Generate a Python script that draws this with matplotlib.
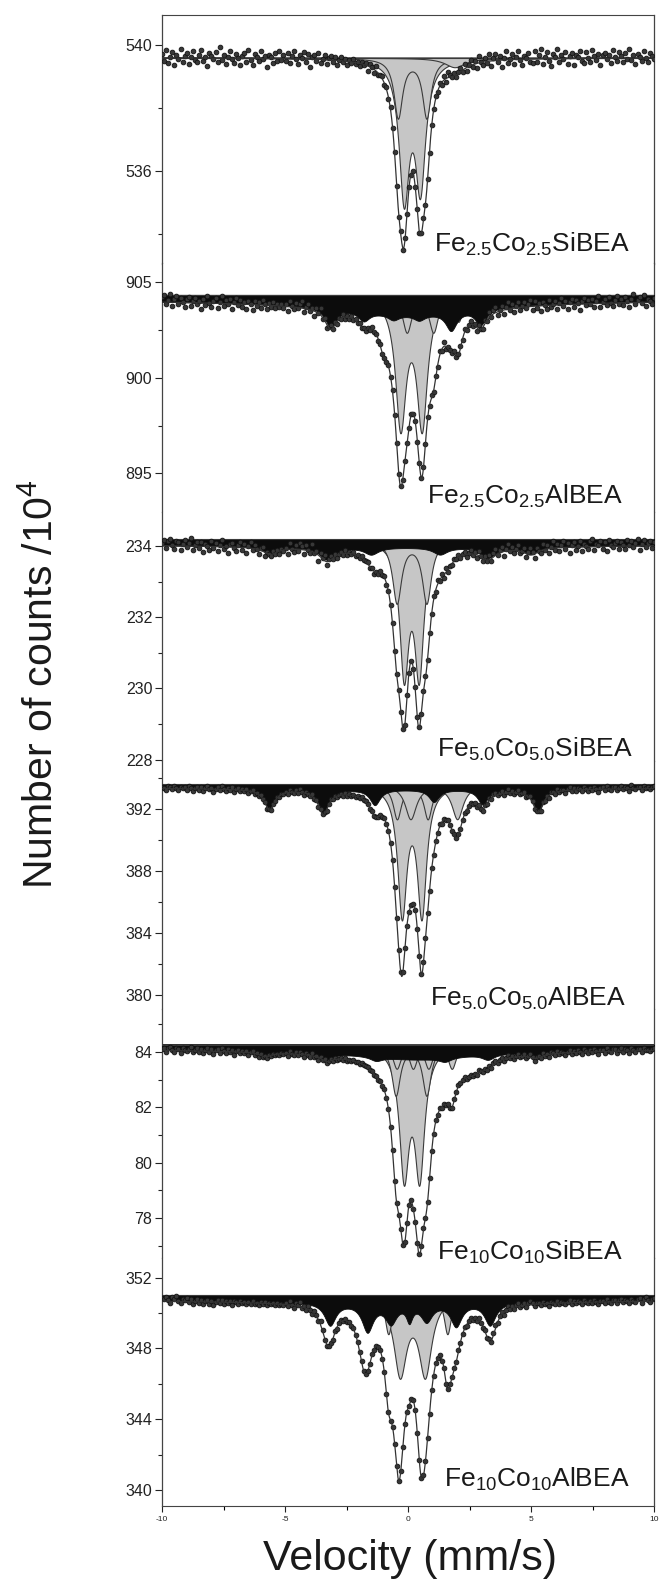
import numpy as np
import matplotlib
matplotlib.use('Agg')
import matplotlib.pyplot as plt
from matplotlib.ticker import MultipleLocator

plt.rcParams['font.family'] = ['Liberation Sans', 'DejaVu Sans']
plt.rcParams['mathtext.fontset'] = 'custom'
plt.rcParams['mathtext.rm'] = 'Liberation Sans'
plt.rcParams['mathtext.it'] = 'Liberation Sans:italic'
plt.rcParams['mathtext.bf'] = 'Liberation Sans:bold'
plt.rcParams['axes.unicode_minus'] = False

# sample names, top to bottom
names = [r'Fe$_{2.5}$Co$_{2.5}$SiBEA', r'Fe$_{2.5}$Co$_{2.5}$AlBEA',
         r'Fe$_{5.0}$Co$_{5.0}$SiBEA', r'Fe$_{5.0}$Co$_{5.0}$AlBEA',
         r'Fe$_{10}$Co$_{10}$SiBEA', r'Fe$_{10}$Co$_{10}$AlBEA']

# baselines (counts / 10^4)
bases = [539.6, 904.34, 234.19, 393.6, 84.26, 351.01]

# fitted subspectra: (line positions mm/s, line depths, fwhm)
gray1 = [((-0.17, 0.49), (4.3, 3.95), 0.5), ((-0.41, 0.75), (1.88, 1.88), 0.42),
         ((1.9,), (0.3,), 1.0)]
black1 = []
extra1 = [((-0.2, 0.52), (0.3, 0.25), 0.45)]

gray2 = [((-0.31, 0.56), (6.69, 6.69), 0.52), ((-0.05, 1.03), (1.9, 1.9), 0.45),
         ((-1.0, 2.05), (0.9, 1.4), 0.4)]
black2 = [((0.0,), (0.38,), 40.0), ((0.0,), (0.6,), 6.0),
          ((-3.15, -1.8, -0.6, 0.45, 1.75, 2.95), (1.0, 0.5, 0.3, 0.3, 1.0, 0.85), 0.55)]
extra2 = [((-0.31, 0.56), (0.6, 0.35), 0.5)]

gray3 = [((-0.17, 0.44), (3.65, 3.65), 0.45), ((-0.46, 0.75), (1.76, 1.76), 0.45),
         ((-1.3, 1.6), (0.2, 0.2), 0.5)]
black3 = [((0.0,), (0.22,), 40.0),
          ((-5.6, -3.3, -1.5, 1.3, 3.25, 5.0), (0.2, 0.35, 0.2, 0.2, 0.3, 0.2), 0.7)]
extra3 = [((-0.17, 0.44), (0.25, 0.2), 0.45)]

gray4 = [((-0.25, 0.55), (8.17, 8.17), 0.45), ((-0.45, 0.8), (2.2, 2.2), 0.4),
         ((0.1, 2.0), (2.2, 2.2), 0.55)]
black4 = [((0.0,), (0.3,), 40.0),
          ((-5.63, -3.44, -1.35, 1.05, 3.03, 5.29), (1.3, 1.5, 1.0, 0.8, 0.95, 1.45), 0.5)]
extra4 = [((-0.25, 0.55, 1.8), (1.0, 1.2, 0.5), 0.6)]

gray5 = [((-0.17, 0.46), (4.52, 4.52), 0.48), ((-0.5, 0.75), (1.8, 1.8), 0.42),
         ((-0.46, 0.83), (0.85, 0.85), 0.4), ((0.2, 1.78), (0.86, 0.86), 0.4)]
black5 = [((0.0,), (0.22,), 40.0), ((0.3,), (0.3,), 5.0),
          ((-5.8, -3.3, -1.3, 1.5, 3.25, 5.2), (0.15, 0.2, 0.15, 0.15, 0.2, 0.15), 0.6)]
extra5 = [((-0.2, 0.5), (0.4, 0.4), 0.6), ((1.3, 2.6), (0.6, 0.4), 1.2)]

gray6 = [((-0.33, 0.69), (4.35, 4.35), 0.63), ((-0.8, 1.6), (2.2, 2.2), 0.35)]
black6 = [((0.0,), (0.4,), 40.0),
          ((-3.17, -1.65, -0.7, 0.75, 1.95, 3.33), (1.27, 1.58, 1.1, 1.0, 1.3, 1.27), 0.55),
          ((0.05,), (0.9,), 0.3)]
extra6 = [((-3.3, -1.8, 1.75, 3.35), (1.1, 2.0, 1.5, 0.7), 0.6),
          ((-0.38, 0.52), (4.0, 4.6), 0.45)]

# measured-minus-fit scatter (1/100 of count unit), per channel
noise1 = [12, -8, 25, -15, 4, 18, -22, 9, -3, 30, -11, 6, 15, -19, 2, 21, -6, -14, 11, 27,
          -9, 3, -24, 16, 8, -2, 19, -13, 34, -7, 10, -18, 5, 23, -4, -16, 13, 1, -21, 7,
          17, -12, 28, -5, -20, 14, 3, -9, 22, -1, 9, -26, 12, 6, -15, 19, -8, 24, -3, 11,
          -6, 19, -13, 8, 26, -2, -17, 11, 4, 22, -9, 15, -24, 7, 13, -4, 20, -11, 2, 16,
          -12, 5, 14, -7, 9, -15, 3, 11, -5, 8, -10, 6, -3, 9, -6, 4, -8, 5, -2, 7,
          -17, 8, 4, -11, 15, -6, 2, 10, -7, 5, -4, 9, -3, 6, 1, -8, 12, -5, 7, -2,
          3, -6, 8, -2, 5, -4, 1, 7, -5, 2, -7, 4, -1, 6, -3, 9, -8, 14, -10, 18,
          6, -3, 9, -8, 4, 12, -5, 15, -11, 3, 18, -7, 10, -14, 21, 2, -9, 13, -4, 24,
          -16, 9, 20, -5, 12, -21, 6, 27, -10, 3, 17, -13, 8, 25, -2, -18, 11, 5, 19, -8,
          -14, 26, -9, 13, 31, -18, 7, 20, -6, -23, 15, 4, 29, -12, 10, -3, 22, -17, 8, 16,
          -20, 12, 5, 24, -8, -15, 19, 2, -11, 27, 6, -5, 14, -22, 9, 18, -4, 11, -16, 25,
          3, -10, 21, 7, -13, 16, -2, 28, -7, 10, -19, 13, 4, -9, 23, 1, -14, 17, 6, -3]
noise2 = [25, 38, -12, 10, 45, -20, 15, 32, -8, 22, 5, -25, 18, 30, -15, 8, 27, -5, 12, -30,
          20, -10, 35, 3, -18, 14, 28, -22, 6, 40, -12, 17, -3, 24, -28, 11, 33, -6, 19, -15,
          9, -24, 16, 2, -30, 21, -9, 13, -17, 26, 4, -20, 12, -7, 18, -13, 7, -4, 10, -11,
          14, -22, 31, 6, -11, 24, -3, 18, 37, -16, 9, 28, -7, 15, -26, 20, 3, 34, -9, 12,
          -18, 10, 22, -6, 15, -14, 8, -4, 17, -11, 6, -9, 12, -3, 7, -5, 9, -2, 4, -6,
          6, -8, 12, -5, 3, -10, 8, -2, 5, -7, 4, -3, 9, -6, 2, -4, 7, -9, 3, 5,
          -4, 8, -6, 3, -9, 5, -2, 7, -5, 10, -8, 14, -12, 6, -15, 18, -10, 22, -14, 9,
          5, -3, 8, -10, 6, 13, -7, 16, -12, 4, 20, -8, 11, -17, 25, 3, -13, 18, -6, 27,
          -10, 19, 32, -15, 8, 26, -22, 13, 39, -5, 21, -18, 10, 30, -12, 6, 24, -8, 15, 34,
          -20, 25, -8, 14, -26, 19, 4, -17, 30, -11, 8, 23, -19, 12, 36, -7, 16, -24, 10, 28,
          -13, 21, 5, -29, 15, 33, -9, 18, -4, 26, -16, 11, 40, -21, 7, 24, -12, 31, 2, -18,
          17, 35, -6, 22, -14, 29, 9, -25, 20, 42, -10, 13, 27, -3, 38, -19, 15, 6, -11, 24]
noise3 = [8, 15, -5, 12, 20, 3, -8, 14, 10, -12, 6, 18, -3, 9, 22, -10, 4, 13, -6, 11,
          -15, 7, 2, -9, 16, -4, 11, -13, 5, 19, -7, 3, -18, 8, 12, -2, -11, 6, 14, -8,
          10, -14, 4, 17, -6, 9, -1, -12, 7, 13, -9, 5, 2, -5, 8, -3, 6, -7, 4, -2,
          6, -13, 17, 2, -8, 12, -4, 19, 9, -11, 14, 3, -6, 21, -2, 8, -15, 10, 4, 16,
          -9, 5, 11, -3, 8, -7, 2, 6, -4, 9, -6, 3, -2, 5, -4, 2, -3, 6, -1, 3,
          5, -4, 3, -6, 2, -3, 6, -1, 4, -5, 3, -2, 5, -4, 1, 3, -3, 2, -2, 4,
          -3, 2, -4, 5, -1, 3, -5, 2, 4, -3, 6, -2, 8, -6, 10, -4, 7, -9, 12, -5,
          2, -4, 5, -2, 7, -5, 3, 8, -6, 4, 11, -3, 6, -9, 13, 1, -7, 10, -2, 15,
          -7, 12, 18, -4, 9, 15, -12, 5, 20, -2, 11, -8, 6, 16, -5, 3, 13, -9, 8, 19,
          9, -11, 14, 3, -7, 16, -2, 10, -13, 5, 21, -6, 12, -9, 7, 18, -4, 11, -15, 6,
          13, -8, 4, 17, -12, 9, 1, -5, 15, 22, -10, 7, 3, 14, -6, 11, -14, 19, 5, -3,
          10, 16, -7, 12, 4, -9, 18, 2, 13, -4, 8, 20, -11, 6, 15, -2, 9, 14, -6, 11]
noise4 = [12, 5, -8, 15, 9, -3, 18, 7, -10, 14, 2, 11, -6, 16, 4, -12, 8, 13, -5, 10,
          -14, 6, 17, -2, 9, -18, 3, 12, -7, 20, 1, -11, 8, -4, 14, -16, 5, 10, -9, 7,
          -6, 13, -15, 4, 11, -8, 2, -12, 9, -3, 6, -10, 4, -5, 7, -2, 3, -6, 5, -4,
          8, -12, 16, 3, -7, 13, -2, 19, 6, -15, 11, 2, -9, 17, -4, 10, -13, 7, 1, 14,
          -11, 6, 12, -4, 9, -8, 3, 7, -5, 10, -6, 4, -3, 6, -5, 2, -4, 7, -2, 4,
          4, -3, 6, -2, 3, -5, 2, -4, 5, -1, 3, -3, 4, -2, 2, -4, 3, -1, 5, -3,
          -2, 4, -3, 2, -5, 3, -1, 6, -4, 5, -7, 3, -9, 8, -5, 10, -12, 7, -4, 13,
          3, -5, 6, -2, 8, -6, 4, 9, -7, 5, 12, -4, 7, -10, 14, 2, -8, 11, -3, 16,
          -9, 14, 19, -5, 10, 17, -13, 6, 22, -3, 12, -10, 7, 18, -6, 4, 15, -11, 9, 20,
          9, -14, 6, 11, -10, 15, -3, 8, -17, 12, 4, -8, 16, -5, 9, 2, -13, 7, 18, -6,
          10, -4, 14, 3, -11, 19, 6, -9, 12, -2, 16, 5, -15, 8, 11, -7, 20, 1, -6, 13,
          15, -8, 9, 17, -3, 12, 6, -13, 21, 4, -5, 14, 9, -10, 18, 3, 7, -4, 12, 16]
noise5 = [6, 10, -4, 8, 12, 2, -6, 9, 5, -8, 11, 3, -2, 7, 13, -5, 4, 9, -3, 6,
          -7, 5, 10, -3, 8, -9, 4, 7, -5, 11, 1, -6, 9, -2, 6, -10, 3, 8, -4, 5,
          -3, 7, -8, 2, 6, -5, 4, -7, 5, -2, 3, -6, 2, -3, 4, -1, 2, -4, 3, -2,
          4, -7, 9, 1, -4, 7, -1, 10, 3, -8, 6, 1, -5, 9, -2, 5, -7, 4, 0, 8,
          -6, 3, 7, -2, 5, -4, 1, 4, -3, 5, -3, 2, -1, 3, -2, 1, -2, 4, -1, 2,
          2, -2, 3, -1, 2, -3, 1, -2, 3, -1, 2, -2, 3, -1, 1, -2, 2, -1, 3, -2,
          -1, 2, -2, 1, -3, 2, -1, 3, -2, 3, -4, 2, -5, 4, -3, 6, -7, 4, -2, 7,
          1, -2, 3, -1, 4, -3, 2, 5, -3, 2, 6, -2, 3, -5, 7, 1, -4, 6, -1, 8,
          -5, 7, 10, -3, 5, 9, -7, 3, 12, -1, 6, -5, 4, 9, -3, 2, 8, -6, 5, 11,
          5, -8, 3, 6, -6, 9, -2, 4, -9, 7, 2, -5, 10, -3, 5, 1, -8, 4, 11, -4,
          6, -2, 8, 2, -7, 11, 3, -5, 7, -1, 9, 3, -9, 5, 6, -4, 12, 1, -3, 8,
          9, -5, 5, 10, -2, 7, 4, -8, 12, 2, -3, 8, 5, -6, 11, 2, 4, -2, 7, 10]
noise6 = [18, 10, 25, 5, -8, 22, 14, 30, 3, -10, 16, 8, 20, -5, 12, -12, 6, 15, -7, 9,
          -14, 4, 11, -9, 7, -16, 2, 10, -6, 13, -11, 5, -3, 8, -13, 6, 1, -8, 9, -4,
          3, -10, 7, -5, 12, -7, 2, -9, 6, -3, 5, -8, 4, -2, 6, -4, 3, -6, 2, -3,
          10, -8, 21, 4, -12, 17, 7, 26, -3, 12, -9, 19, 2, -14, 15, 9, -6, 23, 5, -10,
          -8, 5, 12, -4, 9, -9, 3, 7, -5, 10, -6, 4, -3, 6, -5, 2, -4, 7, -2, 4,
          3, -2, 4, -3, 2, -4, 3, -1, 4, -2, 2, -3, 3, -2, 1, -3, 2, -1, 4, -2,
          -1, 3, -2, 2, -4, 3, -1, 4, -3, 2, -5, 3, -6, 5, -4, 7, -8, 5, -3, 9,
          2, -4, 6, -2, 7, -5, 3, 8, -6, 4, 10, -3, 6, -9, 12, 1, -7, 9, -3, 14,
          -8, 13, 18, -5, 9, 16, -12, 6, 20, -3, 11, -9, 7, 17, -6, 4, 14, -10, 8, 19,
          6, -10, 4, 8, -7, 11, -2, 5, -12, 9, 3, -6, 12, -4, 7, 2, -9, 5, 13, -5,
          7, -3, 10, 2, -8, 14, 4, -6, 9, -2, 11, 3, -11, 6, 8, -5, 15, 1, -4, 10,
          12, -6, 7, 14, -2, 9, 5, -10, 17, 3, -4, 11, 20, -8, 15, 25, 6, -3, 10, 16]

# axis settings per panel
ylims = [(533.06, 540.96), (892.98, 905.99), (227.98, 234.95),
         (379.13, 395.14), (76.57, 85.55), (339.1, 353.13)]
ysteps = [4, 5, 2, 4, 2, 4]


def lor(v, pos, dep, w):
    out = np.zeros_like(v)
    for c, d in zip(pos, dep):
        out += d / (1 + (2 * (v - c) / w) ** 2)
    return out


panels = [(gray1, black1, extra1, noise1), (gray2, black2, extra2, noise2),
          (gray3, black3, extra3, noise3), (gray4, black4, extra4, noise4),
          (gray5, black5, extra5, noise5), (gray6, black6, extra6, noise6)]

W, H = 659, 1582
fig = plt.figure(figsize=(W / 100, H / 100), dpi=100)
x0, x1 = 162, 654
ytop, ph = 15, 248.5
label_pos = [(630, 252), (623, 504), (633, 757), (626, 1006), (623, 1260), (630, 1487)]

xf = np.linspace(-10, 10, 2001)
for i, (gray, black, extra, noise) in enumerate(panels):
    top = ytop + i * ph
    ax = fig.add_axes([x0 / W, 1 - (top + ph) / H, (x1 - x0) / W, ph / H])
    base = bases[i]
    total = np.zeros_like(xf)
    for comp in gray:
        g = lor(xf, *comp)
        total += g
        ax.fill_between(xf, base, base - g, facecolor='#c6c6c6', edgecolor='#3a3a3a',
                        linewidth=0.8, zorder=2)
    if black:
        b = sum(lor(xf, *c) for c in black)
        total += b
        ax.fill_between(xf, base, base - b, facecolor='#0c0c0c', edgecolor='#0c0c0c',
                        linewidth=0.6, zorder=3)
    for comp in extra:
        total += lor(xf, *comp)
    ax.plot([-10, 10], [base, base], color='#3a3a3a', lw=0.8, zorder=3)
    ax.plot(xf, base - total, color='#333333', lw=0.9, zorder=5)

    xd = np.linspace(-10, 10, len(noise))
    yd = base - np.interp(xd, xf, total) + np.array(noise) / 100.0
    ax.plot(xd, yd, 'o', ms=3.4, mfc='#383838', mec='#121212', mew=0.6, zorder=4)

    ax.set_xlim(-10, 10)
    ax.set_ylim(*ylims[i])
    ax.yaxis.set_major_locator(MultipleLocator(ysteps[i]))
    ax.yaxis.set_minor_locator(MultipleLocator(ysteps[i] / 2))
    ax.tick_params(axis='y', which='major', direction='out', length=5, width=0.8,
                   labelsize=11.5, pad=2, colors='#222222')
    ax.tick_params(axis='y', which='minor', direction='out', length=3, width=0.8,
                   colors='#222222')
    for s in ['left', 'right']:
        ax.spines[s].set_color('#444444')
        ax.spines[s].set_linewidth(0.9)
    ax.spines['top'].set_visible(i == 0)
    ax.spines['bottom'].set_visible(i == 5)
    ax.spines['top'].set_color('#444444')
    ax.spines['bottom'].set_color('#444444')
    if i < 5:
        ax.tick_params(axis='x', which='both', bottom=False, labelbottom=False)
    else:
        ax.xaxis.set_major_locator(MultipleLocator(5))
        ax.xaxis.set_minor_locator(MultipleLocator(2.5))
        ax.tick_params(axis='x', which='major', direction='out', length=4, width=0.8,
                       labelsize=6, pad=3, colors='#222222')
        ax.tick_params(axis='x', which='minor', direction='out', length=3, width=0.8)

    lx, ly = label_pos[i]
    fig.text(lx / W, 1 - ly / H, names[i], ha='right', va='baseline', fontsize=19,
             color='#1a1a1a')

fig.text(410 / W, 1 - 1559 / H, 'Velocity (mm/s)', ha='center', va='center',
         fontsize=31, color='#1a1a1a')
fig.text(41 / W, 1 - 684 / H, r'Number of counts /10$^4$', ha='center', va='center',
         rotation=90, fontsize=29.5, color='#1a1a1a')

fig.savefig('out.png', dpi=100)
